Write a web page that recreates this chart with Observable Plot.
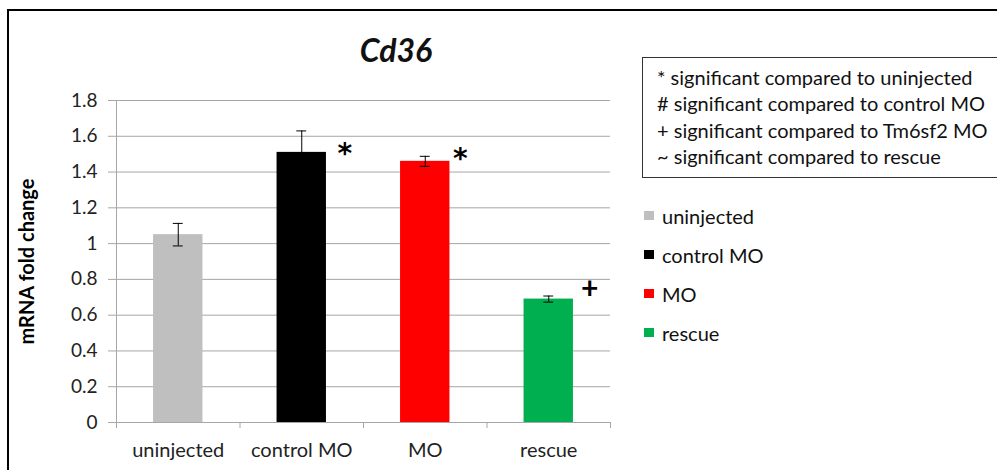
<!DOCTYPE html>
<html>
<head>
<meta charset="utf-8">
<script src="https://cdn.jsdelivr.net/npm/d3@7"></script>
<script src="https://cdn.jsdelivr.net/npm/@observablehq/plot@0.6"></script>
<style>
  body { margin: 0; background: #fff; }
  #wrap { position: relative; width: 997px; height: 470px; overflow: hidden; font-family: Lato, "Open Sans", sans-serif; color: #111; }
  #frame { position: absolute; left: 7px; top: 9px; width: 1100px; height: 600px; border-left: 2.5px solid #000; border-top: 2.5px solid #000; box-sizing: border-box; }
  #title { position: absolute; left: 296px; width: 200px; top: 30px; text-align: center; font-weight: 700; font-style: italic; font-size: 32px; line-height: 40px; }
  #notes { position: absolute; left: 642px; top: 57px; width: 400px; height: 121px; border: 1px solid #333; box-sizing: border-box; padding: 6px 0 0 14px; font-size: 20px; line-height: 26.3px; }
  #notes div { white-space: nowrap; }
  #legend { position: absolute; left: 644px; top: 196px; font-size: 20px; }
  #legend .row { height: 39px; display: flex; align-items: center; white-space: nowrap; }
  #legend .sw { width: 10px; height: 9px; margin-right: 8px; }
  #chart { position: absolute; left: 0; top: 0; }
</style>
</head>
<body>
<div id="wrap">
  <div id="frame"></div>
  <div id="chart"></div>
  <div id="title"></div>
  <div id="notes"></div>
  <div id="legend"></div>
</div>
<script>
// Cd36 mRNA fold change per injection group
const categories = ["uninjected", "control MO", "MO", "rescue"];
const foldChange = [1.05, 1.51, 1.46, 0.69];
const errors = [0.063, 0.12, 0.028, 0.017];
const colors = ["#bfbfbf", "#000000", "#ff0000", "#00b050"];
const significance = ["", "*", "*", "+"];

const yTicks = [0, 0.2, 0.4, 0.6, 0.8, 1, 1.2, 1.4, 1.6, 1.8];
const yTickLabels = ["0", "0.2", "0.4", "0.6", "0.8", "1", "1.2", "1.4", "1.6", "1.8"];

const titleText = "Cd36";
const yLabel = "mRNA fold change";
const notes = [
  "* significant compared to uninjected",
  "# significant compared to control MO",
  "+ significant compared to Tm6sf2 MO",
  "~ significant compared to rescue"
];

const rows = categories.map((category, i) => ({
  category, index: i, value: foldChange[i], error: errors[i], sig: significance[i]
}));

const gray = "#a6a6a6";
const barHalf = 0.2;   // bar half-width, in category units
const capHalf = 0.04;  // error-bar cap half-width
const markFont = "'DejaVu Sans', sans-serif";

const chart = Plot.plot({
  width: 997,
  height: 470,
  marginLeft: 116,
  marginRight: 387,
  marginTop: 100,
  marginBottom: 48,
  style: { fontFamily: "Lato, 'Open Sans', sans-serif", fontSize: "19px", background: "transparent", overflow: "visible" },
  x: { domain: [0, categories.length], axis: null },
  y: { domain: [0, 1.8], axis: null },
  color: { domain: categories, range: colors },
  marks: [
    Plot.ruleY(yTicks.slice(1), { stroke: gray, strokeWidth: 1 }),
    Plot.axisY({
      ticks: yTicks, tickFormat: d => yTickLabels[yTicks.indexOf(d)],
      tickSize: 8, tickPadding: 11, stroke: gray, fill: "#222", label: null, fontSize: 19
    }),
    Plot.axisX({
      ticks: d3.range(categories.length + 1), tickFormat: () => "",
      tickSize: 6, stroke: gray, label: null
    }),
    Plot.ruleX([0], { stroke: gray }),
    Plot.ruleY([0], { stroke: gray }),
    Plot.rectY(rows, {
      x1: d => d.index + 0.5 - barHalf, x2: d => d.index + 0.5 + barHalf,
      y1: 0, y2: "value", fill: "category"
    }),
    // error bars
    Plot.ruleX(rows, { x: d => d.index + 0.5, y1: d => d.value - d.error, y2: d => d.value + d.error, stroke: "#000" }),
    Plot.ruleY(rows, { y: d => d.value + d.error, x1: d => d.index + 0.5 - capHalf, x2: d => d.index + 0.5 + capHalf, stroke: "#000" }),
    Plot.ruleY(rows, { y: d => d.value - d.error, x1: d => d.index + 0.5 - capHalf, x2: d => d.index + 0.5 + capHalf, stroke: "#000" }),
    // significance markers
    Plot.text(rows.filter(d => d.sig === "*" && d.index === 1), { x: d => d.index + 0.5, y: "value", text: "sig", dx: 43, dy: 2, fontSize: 28, fontWeight: 700, fontFamily: markFont, fill: "#000" }),
    Plot.text(rows.filter(d => d.sig === "*" && d.index === 2), { x: d => d.index + 0.5, y: "value", text: "sig", dx: 35, dy: -2, fontSize: 28, fontWeight: 700, fontFamily: markFont, fill: "#000" }),
    Plot.text(rows.filter(d => d.sig === "+"), { x: d => d.index + 0.5, y: "value", text: "sig", dx: 41, dy: -10, fontSize: 30, fontWeight: 700, fill: "#000" }),
    // category labels
    Plot.text(rows, { x: d => d.index + 0.5, y: 0, text: "category", dy: 28, fontSize: 20, fill: "#222" }),
    // y-axis title
    Plot.text([yLabel], { frameAnchor: "left", textAnchor: "middle", rotate: -90, dx: -89, fontSize: 20, fontWeight: 700, fill: "#000" })
  ]
});
document.getElementById("chart").append(chart);

document.getElementById("title").textContent = titleText;

const notesBox = document.getElementById("notes");
notes.forEach(t => {
  const div = document.createElement("div");
  div.textContent = t;
  notesBox.append(div);
});

const legend = document.getElementById("legend");
categories.forEach((c, i) => {
  const row = document.createElement("div");
  row.className = "row";
  const sw = document.createElement("span");
  sw.className = "sw";
  sw.style.background = colors[i];
  const label = document.createElement("span");
  label.textContent = c;
  row.append(sw, label);
  legend.append(row);
});
</script>
</body>
</html>
